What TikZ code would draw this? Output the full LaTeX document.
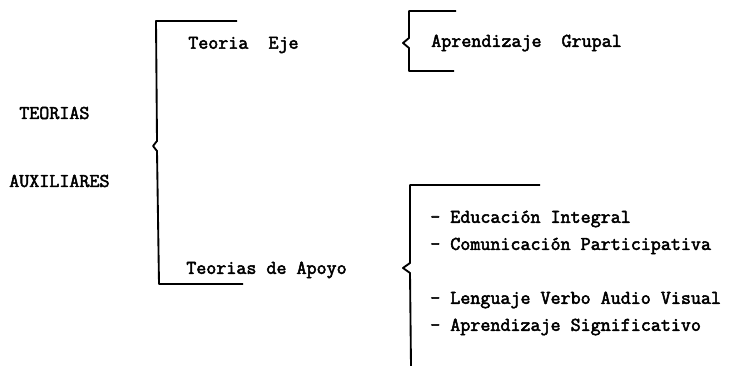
\documentclass[tikz,border=0pt]{standalone}
\usepackage{fontspec}
\newfontfamily\tw{Latin Modern Mono}[FakeBold=2.6]

\tikzset{
  txt/.style={anchor=west, inner sep=0.75pt, font=\tw\fontsize{14.6}{16}\selectfont},
  bracket/.style={line width=1.4pt, line join=round}
}

\begin{document}
\begin{tikzpicture}[x=0.75pt,y=0.75pt,yscale=-1,xscale=1]
\useasboundingbox (0,0) rectangle (736,366);

%Big bracket
\draw [bracket] (237,21) -- (156,21) -- (157,141) -- (153,146) -- (157,151) -- (159,284) -- (243,284) ;
%Upper small bracket
\draw [bracket] (456,11) -- (409,11) -- (409,38) -- (403,43) -- (409,48) -- (409,71) -- (454,71) ;
%Lower bracket
\draw [bracket] (540,185) -- (410,185) -- (410,263) -- (403,268) -- (410,273) -- (411,366) ;

% Text Node
\node [txt] (teorias) at (18,113) {TEORIAS};
% Text Node
\node [txt] (auxiliares) at (8,181) {AUXILIARES};
% Text Node
\node [txt] (eje) at (187,45) {Teoria\ \ Eje};
% Text Node
\node [txt] (apoyo) at (185,270) {Teorias de Apoyo};
% Text Node
\node [txt] (grupal) at (430,43) {Aprendizaje\ \ Grupal};
% Text Node
\node [txt] (edu) at (429,219) {- Educación Integral};
% Text Node
\node [txt] (com) at (429,246) {- Comunicación Participativa};
% Text Node
\node [txt] (len) at (429,300) {- Lenguaje Verbo Audio Visual};
% Text Node
\node [txt] (sig) at (429,327) {- Aprendizaje Significativo};

\end{tikzpicture}
\end{document}
